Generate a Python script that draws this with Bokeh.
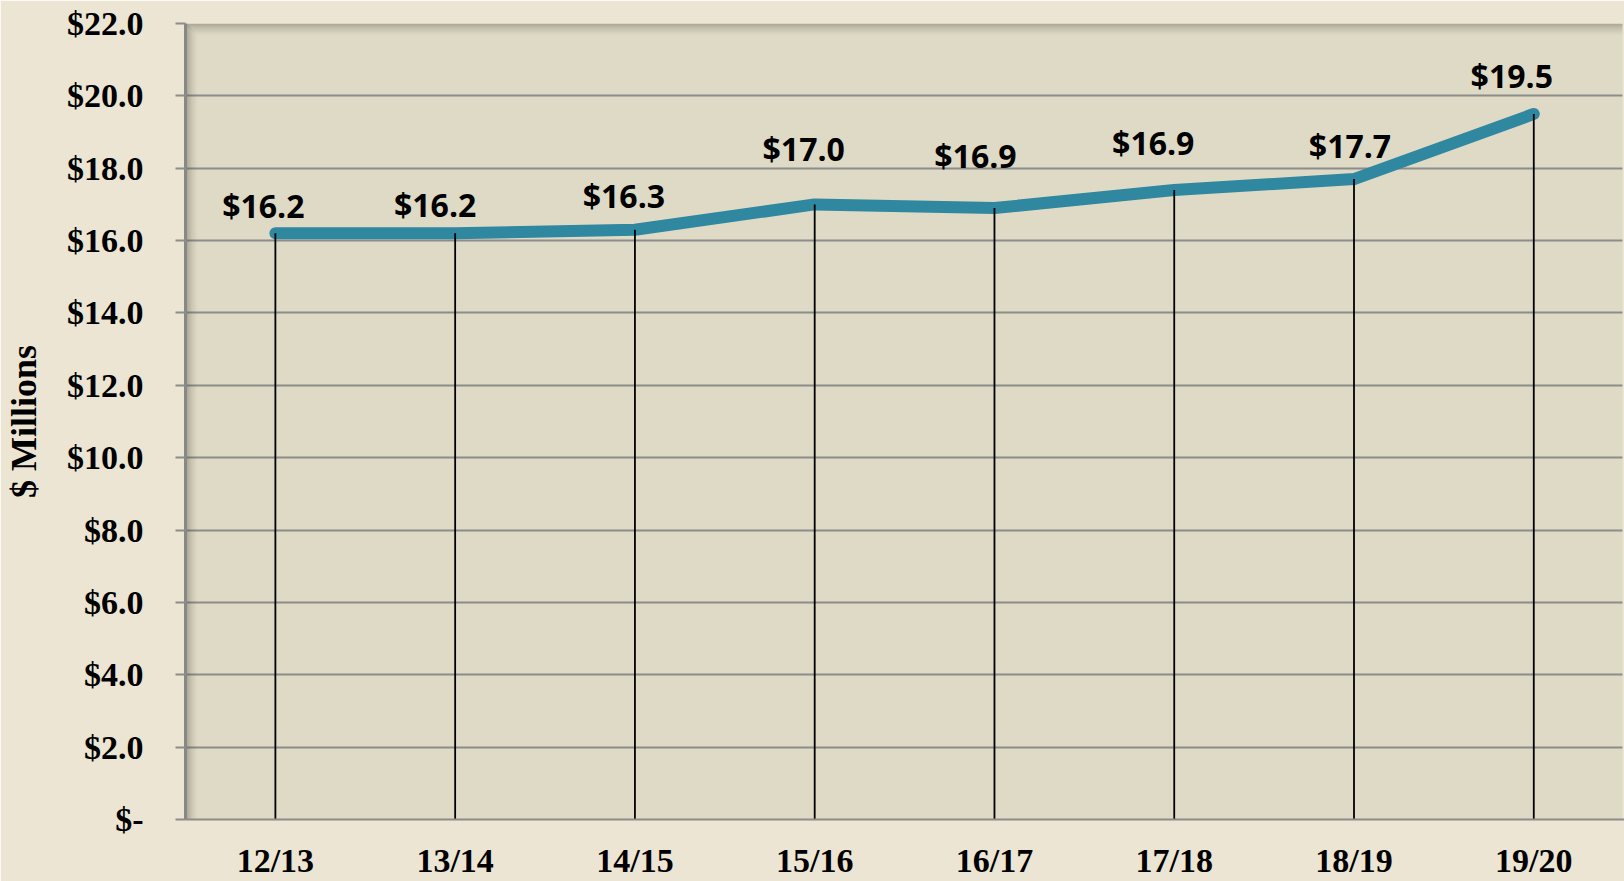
from bokeh.plotting import figure
from bokeh.models import Range1d, FixedTicker, LabelSet, ColumnDataSource
from bokeh.core.properties import value
from bokeh.embed import file_html
from bokeh.resources import INLINE

# ---- data ----
categories = ["12/13", "13/14", "14/15", "15/16", "16/17", "17/18", "18/19", "19/20"]
values = [16.2, 16.2, 16.3, 17.0, 16.9, 17.4, 17.7, 19.5]
value_labels = ["$16.2", "$16.2", "$16.3", "$17.0", "$16.9", "$16.9", "$17.7", "$19.5"]
y_ticks = [0, 2, 4, 6, 8, 10, 12, 14, 16, 18, 20, 22]
y_tick_labels = ["$-", "$2.0", "$4.0", "$6.0", "$8.0", "$10.0", "$12.0",
                 "$14.0", "$16.0", "$18.0", "$20.0", "$22.0"]
y_title = "$ Millions"

# ---- label placement nudges (screen px) ----
label_dx = [-12, -20, -11, -11, -19, -21, -4, -22]
label_dy = [28, 29, 34, 56, 53, 47, 34, 38]

# ---- layout ----
W, H = 1624, 881
BL, BT, BB = 185, 23, 62
FRAME_W = W - BL
X0 = -0.5
PX_X = 179.77            # px per category
X1 = X0 + FRAME_W / PX_X
Y0, Y1 = 0.0, 22.0
PX_Y = (H - BT - BB) / (Y1 - Y0)

PAGE_BG = "#ECE5D3"
PLOT_BG = "#DFDAC5"
GRID = "#8C8C8A"
LINE = "#3087A0"

p = figure(width=W, height=H, x_range=Range1d(X0, X1), y_range=Range1d(Y0, Y1),
           output_backend="svg", toolbar_location=None,
           min_border_left=BL, min_border_top=BT, min_border_bottom=BB, min_border_right=0)
p.background_fill_color = PLOT_BG
p.border_fill_color = PAGE_BG
p.outline_line_color = None
p.xgrid.visible = False

# page-coloured sliver at the right edge
p.quad(left=X1 - 2 / PX_X, right=X1, bottom=Y0, top=Y1, fill_color=PAGE_BG, line_color=None)

# inner shadow on left and top edges
n = 12
for i in range(n):
    a = 0.42 * (1 - i / n) ** 1.6
    p.quad(left=X0 + i / PX_X, right=X0 + (i + 1) / PX_X, bottom=Y0, top=Y1 - i / PX_Y,
           fill_color="#4a4a44", fill_alpha=a, line_color=None)
    p.quad(left=X0 + i / PX_X, right=X1 - 2 / PX_X, bottom=Y1 - (i + 1) / PX_Y, top=Y1 - i / PX_Y,
           fill_color="#4a4a44", fill_alpha=a * 0.9, line_color=None)

# y axis & grid
yax = p.yaxis[0]
yax.ticker = FixedTicker(ticks=y_ticks)
yax.major_label_overrides = {t: l for t, l in zip(y_ticks, y_tick_labels)}
yax.major_label_text_font = "Liberation Serif"
yax.major_label_text_font_style = "bold"
yax.major_label_text_font_size = "34px"
yax.major_label_text_color = "black"
yax.major_label_standoff = 32
yax.major_tick_out = 10
yax.major_tick_in = 0
yax.major_tick_line_color = GRID
yax.major_tick_line_width = 2
yax.minor_tick_line_color = None
yax.axis_line_color = "#888886"
yax.axis_line_width = 3
yax.axis_label = y_title
yax.axis_label_text_font = "Liberation Serif"
yax.axis_label_text_font_style = "bold"
yax.axis_label_text_font_size = "36px"
yax.axis_label_text_color = "black"
yax.axis_label_standoff = 20

p.ygrid.ticker = FixedTicker(ticks=y_ticks)
p.ygrid.grid_line_color = GRID
p.ygrid.grid_line_width = 2

xs = list(range(len(categories)))

# x axis with category labels
xax = p.xaxis[0]
xax.ticker = FixedTicker(ticks=xs)
xax.major_label_overrides = {i: c for i, c in zip(xs, categories)}
xax.major_label_text_font = "Liberation Serif"
xax.major_label_text_font_style = "bold"
xax.major_label_text_font_size = "34px"
xax.major_label_text_color = "black"
xax.major_label_standoff = 22
xax.major_tick_line_color = None
xax.major_tick_out = 0
xax.major_tick_in = 0
xax.minor_tick_line_color = None
xax.axis_line_color = GRID
xax.axis_line_width = 2

# series line
p.line(xs, values, line_color=LINE, line_width=12, line_cap="round", line_join="round")
# drop lines
p.segment(x0=xs, y0=values, x1=xs, y1=[0] * len(xs), line_color="black", line_width=1.8)

# data labels
src = ColumnDataSource(dict(x=xs, y=values, t=value_labels, dx=label_dx, dy=label_dy))
p.add_layout(LabelSet(x="x", y="y", text="t", source=src, x_offset="dx", y_offset="dy",
                      text_align="center", text_baseline="middle",
                      text_font=value("Open Sans"), text_font_style="bold",
                      text_font_size="32px", text_color="black"))

open("out.html", "w").write(file_html(p, INLINE))
